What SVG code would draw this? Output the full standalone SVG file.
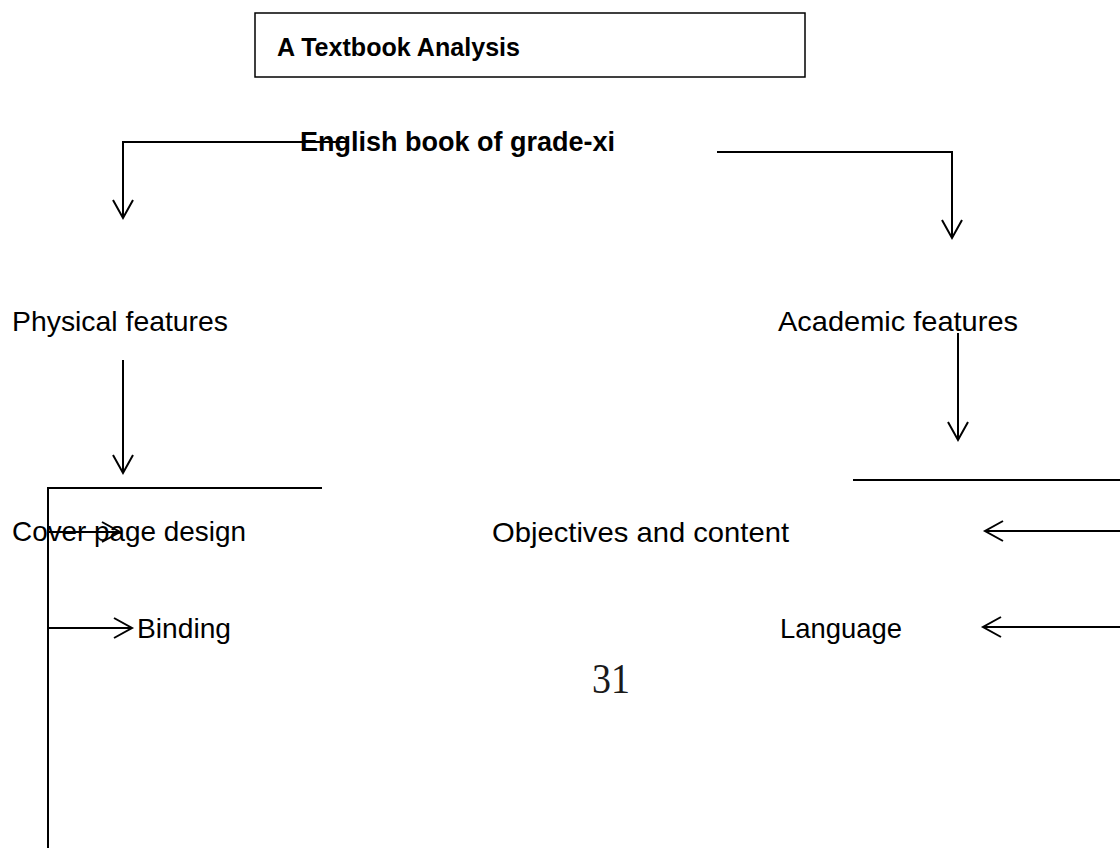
<svg xmlns="http://www.w3.org/2000/svg" width="1120" height="848" viewBox="0 0 1120 848">
  <style>
    .lbl { font-family: "Liberation Sans", Arial, sans-serif; font-size: 28px; fill: #000; }
    .bold { font-family: "Liberation Sans", Arial, sans-serif; font-weight: bold; fill: #000; }
    .num { font-family: "Liberation Serif", "Times New Roman", serif; font-size: 42px; fill: #1a1a1a; }
    .edge { fill: none; stroke: #000; stroke-width: 2; }
  </style>
  <defs>
    <marker id="arr" markerUnits="userSpaceOnUse" markerWidth="26" markerHeight="26" viewBox="-3 -13 26 26" refX="18" refY="0" orient="auto" overflow="visible">
      <path d="M0,-10 L18,0 L0,10" fill="none" stroke="#000" stroke-width="2"/>
    </marker>
  </defs>
  <rect width="1120" height="848" fill="#fff"/>

  <g id="title">
    <rect x="255" y="13" width="550" height="64" fill="#fff" stroke="#000" stroke-width="1.5"/>
    <text class="bold" x="277" y="56" font-size="25" textLength="243" lengthAdjust="spacingAndGlyphs">A Textbook Analysis</text>
  </g>

  <g id="connectors">
    <path class="edge" d="M348,142 H123 V218" marker-end="url(#arr)"/>
    <path class="edge" d="M717,152 H952 V238" marker-end="url(#arr)"/>
    <path class="edge" d="M123,360 V473" marker-end="url(#arr)"/>
    <path class="edge" d="M958,333 V440" marker-end="url(#arr)"/>
    <path class="edge" d="M322,488 H48 V848"/>
    <path class="edge" d="M48,532 H120" marker-end="url(#arr)"/>
    <path class="edge" d="M48,628 H132" marker-end="url(#arr)"/>
    <path class="edge" d="M853,480 H1120"/>
    <path class="edge" d="M1120,531 H985" marker-end="url(#arr)"/>
    <path class="edge" d="M1120,627 H983" marker-end="url(#arr)"/>
  </g>

  <g id="root">
    <text class="bold" x="300" y="151" font-size="27" textLength="315" lengthAdjust="spacingAndGlyphs">English book of grade-xi</text>
  </g>
  <g id="physical">
    <text class="lbl" x="12" y="331" textLength="216" lengthAdjust="spacingAndGlyphs">Physical features</text>
  </g>
  <g id="academic">
    <text class="lbl" x="778" y="331" textLength="240" lengthAdjust="spacingAndGlyphs">Academic features</text>
  </g>
  <g id="cover">
    <text class="lbl" x="12" y="541" textLength="234" lengthAdjust="spacingAndGlyphs">Cover page design</text>
  </g>
  <g id="objectives">
    <text class="lbl" x="492" y="542" textLength="297" lengthAdjust="spacingAndGlyphs">Objectives and content</text>
  </g>
  <g id="binding">
    <text class="lbl" x="137" y="638" textLength="94" lengthAdjust="spacingAndGlyphs">Binding</text>
  </g>
  <g id="language">
    <text class="lbl" x="780" y="638" textLength="122" lengthAdjust="spacingAndGlyphs">Language</text>
  </g>
  <g id="page-number">
    <text class="num" x="592" y="693" textLength="38" lengthAdjust="spacingAndGlyphs">31</text>
  </g>
</svg>
